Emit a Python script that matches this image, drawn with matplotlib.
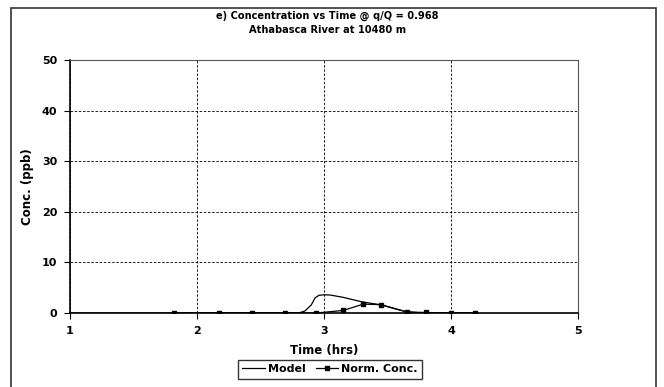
import numpy as np
import matplotlib.pyplot as plt
from matplotlib.patches import Rectangle

plt.rcParams['font.family'] = ['DejaVu Sans']
plt.rcParams['font.weight'] = 'bold'

# Model curve
model_t = [1.0, 2.80, 2.85, 2.90, 2.93, 2.96, 3.00, 3.05, 3.15, 3.30, 3.45, 3.55, 3.65, 3.75, 3.90, 4.20]
model_c = [0.0, 0.0, 0.4, 1.6, 3.0, 3.5, 3.6, 3.55, 3.1, 2.2, 1.6, 0.9, 0.25, 0.05, 0.0, 0.0]

# Normalised observed concentrations
obs_t = [1.82, 2.17, 2.43, 2.69, 2.94, 3.15, 3.31, 3.45, 3.65, 3.80, 4.00, 4.19]
obs_c = [0.0, 0.0, 0.0, 0.0, 0.0, 0.5, 1.75, 1.65, 0.2, 0.1, 0.0, 0.0]

fig = plt.figure(figsize=(6.64, 3.87), dpi=100)
ax = fig.add_axes([70/664, 74/387, 508/664, 253/387])

# frame around the whole chart (bottom runs off the image)
fig.patches.append(Rectangle((11/664, -0.05), 645/664, 1.04 - 4/387, transform=fig.transFigure,
                             fill=False, edgecolor='#333333', linewidth=1.2))

ax.plot(model_t, model_c, color='black', linewidth=0.9, label='Model')
ax.plot(obs_t, obs_c, color='black', linewidth=0.9, marker='s', markersize=3.5, label='Norm. Conc.')

ax.set_xlim(1, 5)
ax.set_ylim(0, 50)
ax.set_xticks([1, 2, 3, 4, 5])
ax.set_yticks([0, 10, 20, 30, 40, 50])
ax.grid(True, color='black', linestyle=(0, (3, 2)), linewidth=0.6)
ax.tick_params(labelsize=8, length=4, width=0.8, direction='out', pad=5)
for lab in ax.get_xticklabels() + ax.get_yticklabels():
    lab.set_fontweight('bold')

for s in ['top', 'right']:
    ax.spines[s].set_linestyle((0, (3, 1)))
    ax.spines[s].set_color('#555555')
    ax.spines[s].set_linewidth(0.8)
for s in ['left', 'bottom']:
    ax.spines[s].set_linewidth(1.2)

ax.set_xlabel('Time (hrs)', fontsize=8.5, fontweight='bold', labelpad=6)
ax.set_ylabel('Conc. (ppb)', fontsize=8.5, fontweight='bold', labelpad=6)
fig.text(0.493, 1 - 23/387, 'e) Concentration vs Time @ q/Q = 0.968\nAthabasca River at 10480 m',
         ha='center', va='center', fontsize=7.1, fontweight='bold', linespacing=1.45)

leg = ax.legend(loc='center', bbox_to_anchor=(0.512, -0.222), ncol=2, fontsize=8,
                frameon=True, fancybox=False, edgecolor='black', handlelength=2.0,
                handletextpad=0.3, columnspacing=0.9, borderpad=0.4, borderaxespad=0)
leg.get_frame().set_linewidth(1.0)
for t in leg.get_texts():
    t.set_fontweight('bold')

fig.savefig('out.png', dpi=100)
